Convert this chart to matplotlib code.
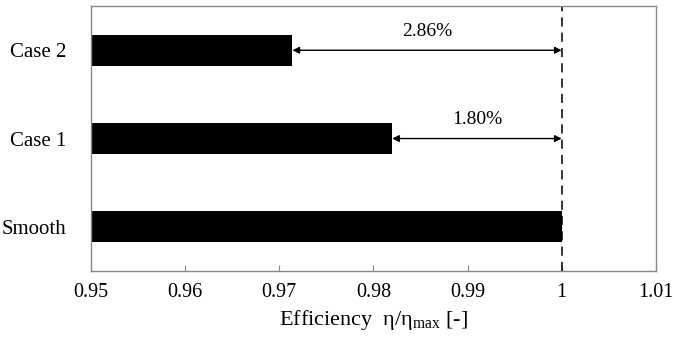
import numpy as np
import matplotlib
matplotlib.use("Agg")
import matplotlib.pyplot as plt

plt.rcParams['font.family'] = ['Liberation Serif', 'DejaVu Serif']
plt.rcParams['mathtext.default'] = 'regular'

# data
cases = ['Smooth', 'Case 1', 'Case 2']
efficiency = [1.0, 0.982, 0.9714]
gap_labels = [None, '1.80%', '2.86%']
ref_value = 1.0
xticks = [0.95, 0.96, 0.97, 0.98, 0.99, 1.00, 1.01]
xtick_labels = ['0.95', '0.96', '0.97', '0.98', '0.99', '1', '1.01']

fig = plt.figure(figsize=(6.74, 3.40), dpi=100)
ax = fig.add_axes([0.135, 0.203, 0.838, 0.779])

ypos = np.arange(len(cases))
ax.barh(ypos, [e - 0.95 for e in efficiency], left=0.95, height=0.35, color='black')

ax.axvline(ref_value, color='black', linestyle=(0, (6, 4)), linewidth=1.1)

for y, e, lab in zip(ypos, efficiency, gap_labels):
    if lab is None:
        continue
    ax.annotate('', xy=(e, y), xytext=(ref_value, y),
                arrowprops=dict(arrowstyle='<|-|>', color='black', lw=1.0,
                                mutation_scale=10, shrinkA=0, shrinkB=0))
    ax.text((e + ref_value) / 2, y + 0.12, lab, ha='center', va='bottom', fontsize=14)

ax.set_xlim(0.95, 1.01)
ax.set_ylim(-0.5, 2.5)
ax.set_xticks(xticks)
ax.set_xticklabels(xtick_labels, fontsize=14.5)
ax.set_yticks(ypos)
ax.set_yticklabels(cases, fontsize=15)
ax.tick_params(axis='x', direction='in', length=4, color='#888888', pad=9)
ax.tick_params(axis='y', length=0, pad=18)
for s in ax.spines.values():
    s.set_color('#888888')
    s.set_linewidth(1.0)

ax.set_xlabel('Efficiency  η/η$_{max}$ [-]', fontsize=16, labelpad=4)

fig.savefig('out.png', dpi=100)
